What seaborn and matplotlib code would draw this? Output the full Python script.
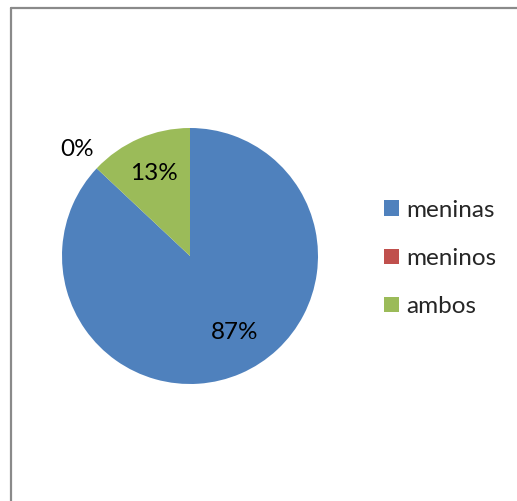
import seaborn as sns
import matplotlib
matplotlib.use("Agg")
from matplotlib import pyplot as plt
from matplotlib.lines import Line2D
import numpy as np

# Data
categories = ["meninas", "meninos", "ambos"]
values = [87, 0, 13]
colors = ["#4F81BD", "#C0504D", "#9BBB59"]

sns.set_theme(style="white")
plt.rcParams['font.family'] = ['Lato', 'DejaVu Sans']

W, H = 517, 501
fig = plt.figure(figsize=(W / 100, H / 100), dpi=100)
fig.patch.set_facecolor("white")

# pie axes: centre (190,256) px, radius 128 px
cx, cy, r = 190, 256, 128
ax = fig.add_axes([(cx - r) / W, (H - cy - r) / H, 2 * r / W, 2 * r / H])

wedges, texts, autotexts = ax.pie(values, colors=colors, startangle=90, counterclock=False,
                                  autopct="%1.0f%%", pctdistance=0.7,
                                  wedgeprops=dict(linewidth=0),
                                  textprops=dict(fontsize=17.5, color="black"))
ax.set_xlim(-1, 1)
ax.set_ylim(-1, 1)
ax.set_aspect("equal")

# move labels of empty slices outside the pie, nudge the big one like Excel does
for w, t, v in zip(wedges, autotexts, values):
    t.set_clip_on(False)
    ang = np.deg2rad((w.theta1 + w.theta2) / 2)
    if v == 0:
        t.set_position((1.21 * np.cos(ang), 1.21 * np.sin(ang)))
    elif v > 50:
        ang = ang + np.deg2rad(7)
        t.set_position((0.69 * np.cos(ang), 0.69 * np.sin(ang)))

# legend
fig.legend(wedges, categories, loc="center left", bbox_to_anchor=(384 / W, 1 - 258.5 / H),
           frameon=False, fontsize=17.5, handlelength=0.6, handleheight=0.6,
           handletextpad=0.3, labelspacing=1.12, borderpad=0, borderaxespad=0)

# chart frame (top/left visible)
x0, y0 = 10.5 / W, 1 - 7.5 / H
fig.add_artist(Line2D([x0, x0], [0, y0], color="#8a8a8a", linewidth=1.6))
fig.add_artist(Line2D([x0, 1], [y0, y0], color="#8a8a8a", linewidth=1.6))

fig.savefig("out.png", dpi=100, facecolor="white")
